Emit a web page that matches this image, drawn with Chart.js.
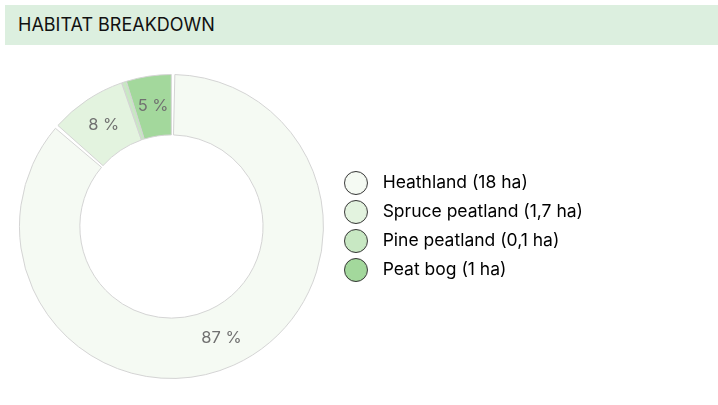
<!DOCTYPE html>
<html>
<head>
<meta charset="utf-8">
<script src="https://cdn.jsdelivr.net/npm/chart.js@4/dist/chart.umd.min.js"></script>
<style>
  html, body { margin: 0; padding: 0; background: #fff; width: 718px; height: 405px; overflow: hidden; font-family: Inter, "Noto Sans", sans-serif; }
  .header { position: absolute; left: 5px; top: 5px; width: 713px; height: 40px; background: #dcefdf; }
  .header span { position: absolute; left: 13px; top: 9px; font-size: 18px; color: #111; line-height: 22px; }
  .wrap { position: absolute; left: 0; top: 50px; width: 718px; height: 355px; }
</style>
</head>
<body>
<div class="header"><span>HABITAT BREAKDOWN</span></div>
<div class="wrap"><canvas id="habitatChart"></canvas></div>
<script>
// habitat areas in hectares
const habitats = ['Heathland', 'Spruce peatland', 'Pine peatland', 'Peat bog'];
const areaLabels = ['18 ha', '1,7 ha', '0,1 ha', '1 ha'];
const areas = [18, 1.7, 0.1, 1];
const fillColors = ['#f5faf3', '#e3f3df', '#c8e8c3', '#a3d89c'];

// legend marker: circle drawn on the left of a wider image so text sits further right
function makeMarker(color) {
    const c = document.createElement('canvas');
    c.width = 30;
    c.height = 26;
    const g = c.getContext('2d');
    g.beginPath();
    g.arc(12, 13, 11.5, 0, Math.PI * 2);
    g.fillStyle = color;
    g.fill();
    g.lineWidth = 1;
    g.strokeStyle = '#333';
    g.stroke();
    return c;
}
const markers = fillColors.map(makeMarker);

// percent labels inside the ring
const percentLabels = {
    id: 'percentLabels',
    afterDatasetsDraw(chart) {
        const ctx = chart.ctx;
        const data = chart.data.datasets[0].data;
        const total = data.reduce((a, b) => a + b, 0);
        const meta = chart.getDatasetMeta(0);
        ctx.save();
        ctx.font = '16.5px Inter';
        ctx.fillStyle = '#707070';
        ctx.textAlign = 'center';
        ctx.textBaseline = 'middle';
        meta.data.forEach((arc, i) => {
            const pct = data[i] / total * 100;
            if (pct < 2) return;
            const p = arc.tooltipPosition();
            ctx.fillText(Math.round(pct) + ' %', p.x, p.y);
        });
        ctx.restore();
    }
};

new Chart(document.getElementById('habitatChart'), {
    type: 'doughnut',
    data: {
        labels: habitats,
        datasets: [{
            data: areas,
            backgroundColor: fillColors,
            borderColor: '#d4d4d4',
            borderWidth: 1,
            spacing: 2
        }]
    },
    options: {
        responsive: true,
        maintainAspectRatio: false,
        animation: false,
        cutout: '60%',
        layout: { padding: { left: 10.5, top: 24, bottom: 26, right: 125 } },
        plugins: {
            tooltip: { enabled: false },
            legend: {
                position: 'right',
                labels: {
                    font: { family: 'Inter', size: 17.5, lineHeight: 1.2 },
                    color: '#1a1a1a',
                    padding: 11.5,
                    usePointStyle: true,
                    pointStyleWidth: 30,
                    generateLabels(chart) {
                        return habitats.map((h, i) => ({
                            text: h + ' (' + areaLabels[i] + ')',
                            fillStyle: fillColors[i],
                            strokeStyle: '#333',
                            lineWidth: 0,
                            pointStyle: markers[i],
                            hidden: false,
                            index: i
                        }));
                    }
                }
            }
        }
    },
    plugins: [percentLabels]
});
</script>
</body>
</html>
